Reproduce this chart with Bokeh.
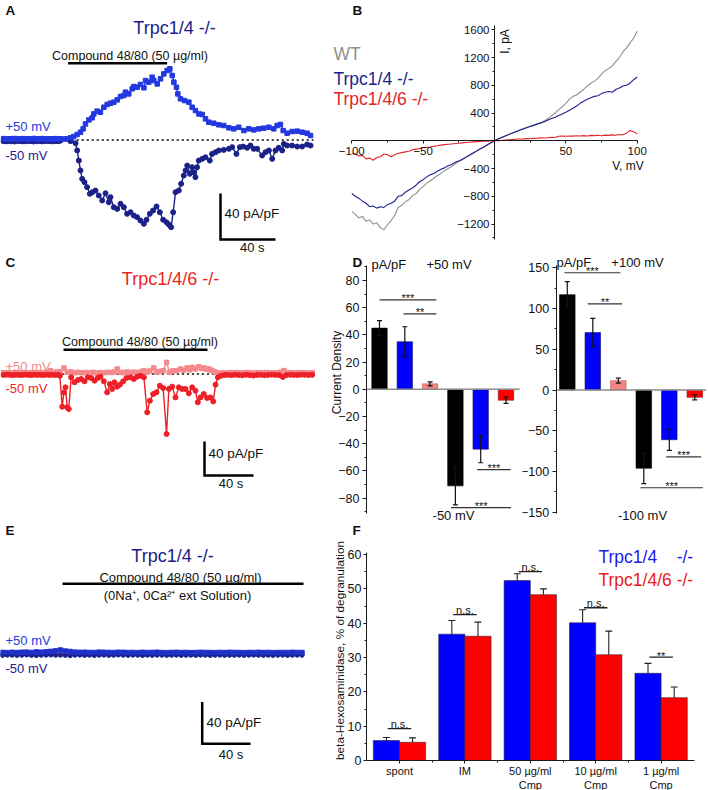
import math
from bokeh.plotting import figure
from bokeh.layouts import row, column
from bokeh.models import Label, Whisker, TeeHead, FixedTicker, ColumnDataSource, Range1d
from bokeh.embed import file_html
from bokeh.resources import INLINE

# ======================= DATA =======================
# ---- Panel A: Trpc1/4 -/- time course (t in s, current in pA/pF)
a_pos_t = [0, 2, 4, 6, 8, 10, 12, 14, 16, 18, 20, 22, 24, 26, 28, 30, 32, 34, 36, 38, 40,
           41.5, 45.1, 48.7, 51.1, 53.6, 56.0, 57.9, 59.6, 62.1, 64.5,
           65.7, 68.1, 70.5, 73.0, 75.4, 77.8, 80.2, 82.7, 85.1, 87.5,
           88.7, 91.1, 93.6, 94.8, 97.2, 99.6, 102.1, 103.3, 105.7, 108.1,
           109.3, 111.8, 114.2, 116.6, 119.0, 121.0, 122.7, 123.9, 125.8, 126.8,
           128.7, 131.6, 134.8, 137.2, 139.6, 142.1, 144.5, 146.9, 149.3, 152.9,
           156.6, 160.2, 163.9, 167.5, 171.1, 174.8, 178.4, 182.1, 185.7, 189.3,
           193.0, 196.6, 199.0, 201.4, 203.4, 206.3, 209.9, 213.6, 217.2, 220.8,
           223.3]
a_pos_i = [1.2, 0.8, 1.1, 0.9, 1.3, 1.0, 0.8, 1.2, 1.0, 0.9, 1.1, 1.3, 0.9, 1.0, 1.2, 0.8, 1.1, 1.0, 0.9, 1.2, 1.0,
           1.0, 1.0, 1.9, 3.0, 4.8, 6.8, 9.7, 14.0, 17.5, 19.3,
           22.7, 25.1, 24.2, 28.5, 30.9, 32.0, 32.9, 34.9, 37.8, 38.7,
           41.6, 40.1, 44.5, 46.5, 45.9, 48.3, 45.4, 51.7, 50.3, 54.6,
           51.7, 48.8, 53.2, 57.5, 60.4, 61.9, 56.1, 50.3, 45.9, 40.1,
           35.8, 34.3, 32.9, 28.5, 25.6, 22.7, 22.2, 18.4, 15.5, 14.6,
           13.2, 12.6, 10.6, 9.7, 11.1, 8.2, 9.7, 8.8, 9.7, 10.3,
           11.1, 9.7, 12.6, 13.5, 8.2, 5.9, 7.4, 7.7, 6.8, 5.9,
           3.9]
a_neg_t = [0, 2, 4, 6, 8, 10, 12, 14, 16, 18, 20, 22, 24, 26, 28, 30, 32, 34, 36, 38, 40,
           41.5, 48.7, 52.4, 53.6, 54.8, 56.0, 57.2, 58.9, 60.8, 62.8,
           64.5, 66.9, 69.3, 71.8, 74.2, 76.6, 77.8, 80.2, 82.7, 85.1,
           87.5, 89.9, 92.4, 94.8, 97.2, 99.6, 102.1, 104.0, 106.4, 108.8,
           111.3, 113.7, 116.1, 118.5, 120.2, 121.9, 123.4, 125.1, 127.5, 129.2,
           131.1, 132.4, 133.6, 135.5, 137.2, 138.4, 139.6, 140.8, 142.0, 144.5,
           146.9, 150.0, 151.7, 154.2, 156.6, 160.2, 163.9, 166.3, 169.4, 171.9,
           174.3, 177.2, 179.6, 182.0, 184.5, 188.1, 190.5, 193.0, 195.4, 197.8,
           200.2, 202.7, 203.9, 206.3, 209.9, 213.6, 217.2, 220.8, 223.3]
a_neg_i = [-1.0, -1.2, -0.9, -1.1, -1.3, -0.8, -1.0, -1.2, -1.1, -0.9, -1.0, -1.3, -1.1, -0.9, -1.2, -1.0, -0.8, -1.1, -1.2, -1.0, -1.1,
           -0.5, -1.0, -2.8, -9.1, -17.9, -26.5, -33.8, -36.7, -41.0, -46.8,
           -45.4, -43.9, -48.3, -52.6, -46.3, -54.1, -49.7, -58.4, -59.9, -55.5,
           -58.4, -64.2, -62.8, -65.7, -67.1, -70.0, -72.9, -69.4, -64.2, -61.3,
           -57.8, -62.8, -69.4, -71.5, -73.5, -75.8, -62.8, -45.4, -43.9, -38.1,
           -30.9, -26.5, -22.2, -29.4, -23.6, -28.0, -32.3, -23.6, -17.9, -16.4,
           -15.0, -17.9, -12.1, -10.6, -9.1, -8.6, -7.7, -6.2, -12.1, -6.2,
           -5.7, -6.8, -4.8, -7.7, -7.7, -13.5, -10.6, -9.1, -16.4, -9.1,
           -6.8, -9.1, -3.4, -4.8, -4.8, -5.7, -5.7, -3.9, -4.8]
a_compound = [47, 119]
a_dotted = [50, 225]

# ---- Panel C: Trpc1/4/6 -/- time course
c_neg_t = [0, 2.5, 5, 7.5, 10, 12.5, 15, 17.5, 20, 22.5, 25, 27.5, 30, 32.5, 35, 37.5, 40, 42.5, 45,
           46.0, 47.9, 49.3, 50.6, 52.0, 53.3, 55.2, 58.0, 60.7, 63.4,
           66.1, 68.8, 71.6, 74.3, 77.0, 79.2, 81.9, 84.6, 86.8, 88.7,
           90.6, 92.8, 95.0, 97.7, 100.4, 103.7, 106.4, 109.1, 111.8, 114.6,
           117.3, 119.5, 122.2, 124.9, 127.6, 130.3, 133.1, 135.0, 137.7, 140.4,
           143.1, 145.8, 148.6, 151.3, 154.0, 156.7, 158.6, 160.8, 163.5, 166.2,
           168.9, 171.2, 173.1, 175.0, 177.7,
           180.5, 183, 186, 189, 192, 195, 198, 201, 204, 207,
           210, 213, 216, 219, 222, 225, 228, 231, 234, 237,
           240, 243, 246, 249, 252]
c_neg_i = [-1.2, -0.8, -1.0, -1.4, -0.9, -1.1, -1.3, -0.8, -1.0, -1.2, -0.9, -1.1, -1.0, -1.3, -0.8, -1.2, -1.0, -1.1, -1.0,
           -2.0, -38.4, -21.6, -15.7, -39.2, -41.2, -3.9, -9.8, -7.1, -5.9,
           -8.6, -3.9, -4.7, -7.8, -4.7, -3.1, -8.6, -21.6, -11.8, -17.6,
           -9.8, -14.9, -12.5, -8.6, -4.7, -3.9, -5.9, -3.1, -2.0, -3.9,
           -45.1, -31.4, -23.5, -21.6, -13.7, -16.5, -70.6, -17.6, -14.9, -27.5,
           -15.7, -17.6, -17.6, -22.7, -15.7, -19.6, -33.3, -27.5, -23.5, -28.2,
           -27.5, -32.2, -12.5, -3.9, -2.0,
           -1.2, -1.0, -1.4, -0.9, -1.2, -1.5, -1.0, -1.3, -1.8, -1.1,
           -1.0, -1.4, -1.2, -0.9, -1.1, -1.3, -3.5, -1.2, -1.0, -1.1,
           -1.3, -0.9, -1.0, -1.2, -1.0]
c_pos_t = [0, 2.5, 5, 7.5, 10, 12.5, 15, 17.5, 20, 22.5,
           25, 27.5, 30, 32.5, 35, 38.4, 41, 43.5, 46.5, 49.3,
           52.0, 55, 58, 61, 64, 67, 70, 73, 76, 79,
           82, 85, 88, 90.5, 92.8, 95.5, 98, 101, 104, 107,
           110, 112.5, 114.6, 117, 119.5, 122.7, 125, 127.5, 130.5, 133.1,
           135.5, 138, 141, 144.5, 147, 149.9, 152, 154.0, 156.5, 159.4,
           161.5, 163.5, 165.5, 167.6, 169.5, 171.7, 173.5, 175.8, 178.5, 181.5,
           184.5, 187.5, 190.5, 193.5, 196.5, 199.5, 202.5, 205.5, 208.5, 211.5,
           214.5, 217.5, 220.5, 223.5, 226.5, 229, 231.5, 234.5, 237.5, 240.5,
           243.5, 246.5, 249.5, 252]
c_pos_i = [1.5, 1.2, 1.6, 1.3, 1.5, 1.8, 1.4, 1.6, 1.3, 1.5,
           1.7, 1.4, 1.6, 1.3, 2.2, 3.9, 1.8, 2.5, 2.7, 7.1,
           2.0, 2.6, 1.5, 2.0, 1.4, 1.8, 1.5, 2.0, 1.2, 1.6,
           1.5, 2.0, 1.8, 2.5, 5.9, 2.0, 1.6, 2.4, 1.8, 2.2,
           1.6, 2.8, 3.9, 2.0, 3.5, 7.1, 2.5, 3.0, 4.0, 13.7,
           2.0, 3.5, 3.9, 5.9, 4.5, 7.1, 5.0, 7.8, 6.0, 8.6,
           6.5, 7.1, 5.5, 5.9, 4.5, 3.1, 2.0, 0.8, 1.5, 1.2,
           1.6, 1.4, 1.8, 1.3, 1.5, 1.7, 1.2, 1.6, 1.4, 1.5,
           1.8, 1.3, 1.5, 1.4, 2.2, 4.0, 1.8, 1.5, 1.3, 1.6,
           1.4, 1.5, 1.3, 1.5]
c_compound = [49, 166.5]
c_dotted = [40, 185]

# ---- Panel E: Trpc1/4 -/- in 0Na+, 0Ca2+ solution
e_t = [0, 4, 8, 12, 16, 20, 24, 28, 32, 36,
       40, 44, 48, 52, 56, 60, 64, 68, 72, 76,
       80, 84, 88, 92, 96, 100, 104, 108, 112, 116,
       120, 124, 128, 132, 136, 140, 144, 148, 152, 156,
       160, 164, 168, 172, 176, 180, 184, 188, 192, 196,
       200, 204, 208, 212, 216, 220, 224, 228, 232, 236,
       240, 244, 248]
e_pos_i = [1.3, 1.1, 1.4, 1.2, 1.5, 1.6, 1.3, 1.8, 1.5, 1.9,
           2.3, 2.8, 3.6, 2.6, 2.2, 1.6, 1.4, 1.5, 1.3, 1.2,
           1.6, 1.4, 1.3, 1.2, 1.5, 1.4, 1.2, 1.3, 1.1, 1.4,
           1.2, 1.3, 1.5, 1.2, 1.1, 1.3, 1.4, 1.2, 1.3, 1.1,
           1.2, 1.4, 1.3, 1.2, 1.1, 1.3, 1.2, 1.4, 1.3, 1.2,
           1.1, 1.3, 1.2, 1.4, 1.2, 1.3, 1.1, 1.2, 1.3, 1.2,
           1.4, 1.3, 1.2]
e_neg_i = [-1.3, -1.1, -1.2, -1.4, -1.2, -1.0, -1.3, -1.5, -1.2, -1.1,
           -1.0, -1.2, -1.1, -1.3, -1.6, -1.2, -1.1, -1.3, -1.2, -1.4,
           -1.2, -1.1, -1.3, -1.2, -1.0, -1.2, -1.3, -1.1, -1.2, -1.4,
           -1.2, -1.3, -1.1, -1.2, -1.3, -1.2, -1.1, -1.3, -1.2, -1.2,
           -1.3, -1.1, -1.2, -1.4, -1.2, -1.1, -1.3, -1.2, -1.2, -1.1,
           -1.3, -1.2, -1.1, -1.2, -1.3, -1.2, -1.4, -1.2, -1.1, -1.3,
           -1.2, -1.1, -1.2]
e_compound = [49.7, 249.3]

scale_time = 40      # s
scale_current = 40   # pA/pF

# ---- Panel B: I-V curves (mV, pA)
b_v = [-100, -97.5, -95, -92.5, -90, -87.5, -85, -82.5, -80, -77.5,
       -75, -72.5, -70, -67.5, -65, -62.5, -60, -57.5, -55, -52.5,
       -50, -47.5, -45, -42.5, -40, -37.5, -35, -32.5, -30, -27.5,
       -25, -22.5, -20, -17.5, -15, -12.5, -10, -7.5, -5, -2.5,
       0, 2.5, 5, 7.5, 10, 12.5, 15, 17.5, 20, 22.5,
       25, 27.5, 30, 32.5, 35, 37.5, 40, 42.5, 45, 47.5,
       50, 52.5, 55, 57.5, 60, 62.5, 65, 67.5, 70, 72.5,
       75, 77.5, 80, 82.5, 85, 87.5, 90, 92.5, 95, 97.5,
       100]
b_wt = [-1020, -1060, -1110, -1090, -1160, -1140, -1200, -1180, -1250, -1280,
        -1210, -1150, -1080, -960, -930, -880, -850, -790, -760, -700,
        -660, -610, -580, -540, -500, -470, -430, -400, -370, -330,
        -300, -270, -240, -210, -180, -150, -120, -90, -60, -30,
        0, 25, 48, 70, 92, 112, 132, 152, 172, 192,
        210, 228, 245, 262, 290, 320, 360, 400, 450, 490,
        540, 600, 640, 660, 700, 740, 790, 830, 860, 900,
        960, 1010, 1040, 1080, 1140, 1200, 1280, 1340, 1410, 1480,
        1580]
b_trpc14 = [-760, -800, -830, -870, -900, -950, -940, -970, -950, -960,
            -920, -900, -870, -800, -790, -740, -710, -680, -640, -590,
            -560, -520, -490, -470, -440, -410, -390, -360, -340, -310,
            -290, -265, -235, -205, -175, -145, -115, -88, -58, -28,
            0, 25, 48, 70, 92, 112, 132, 152, 170, 188,
            205, 222, 240, 258, 275, 300, 320, 340, 365, 385,
            410, 440, 470, 500, 540, 570, 600, 620, 640, 650,
            680, 700, 710, 700, 740, 760, 790, 800, 830, 880,
            920]
b_trpc146 = [-180, -190, -220, -210, -260, -250, -280, -240, -230, -190,
             -200, -230, -200, -180, -170, -160, -150, -130, -120, -110,
             -100, -95, -90, -80, -72, -62, -55, -50, -45, -40,
             -35, -30, -25, -20, -16, -12, -9, -6, -4, -2,
             0, 3, 6, 10, 14, 18, 22, 25, 28, 32,
             30, 35, 38, 42, 40, 45, 50, 48, 65, 70,
             65, 70, 68, 72, 70, 75, 70, 78, 74, 80,
             72, 82, 78, 85, 80, 90, 88, 110, 150, 130,
             100]
b_xticks = [-100, -50, 50, 100]
b_xminor = [-75, -25, 25, 75]
b_yticks = [-1200, -800, -400, 400, 800, 1200, 1600]
b_yminor = [-1400, -1000, -600, -200, 200, 600, 1000, 1400]
b_xbounds = (-100, 100)
b_ybounds = (-1420, 1660)

# ---- Panel D: current density bars
d_x = [0, 1, 2, 3, 4, 5]
d_colors = ["#000000", "#0000fe", "#f28482", "#000000", "#0000fe", "#fe0000"]
d_edges = ["#000000", "#1a1a60", "#c0605e", "#000000", "#1a1a60", "#901010"]
d50_val = [45, 35, 4, -71, -44, -8]
d50_err = [5.5, 11, 1.5, 14, 10, 2.3]
d50_sig_x0 = [0, 0.95, 3.86, 2.83]
d50_sig_x1 = [2.25, 2.25, 5.18, 5.2]
d50_sig_y = [65.7, 55.4, -59, -87]
d50_sig_txt = ["***", "**", "***", "***"]
d50_ticks = [-80, -60, -40, -20, 0, 20, 40, 60, 80]
d50_minor = [-90, -70, -50, -30, -10, 10, 30, 50, 70, 90]
d100_val = [117, 70.5, 11.5, -96, -61, -9]
d100_err = [16, 17.5, 3, 19, 13, 3]
d100_sig_x0 = [-0.11, 0.80, 3.88, 2.87]
d100_sig_x1 = [2.08, 2.15, 5.25, 5.32]
d100_sig_y = [143.9, 105.7, -82, -120]
d100_sig_txt = ["***", "**", "***", "***"]
d100_ticks = [-150, -100, -50, 0, 50, 100, 150]
d100_minor = [-125, -75, -25, 25, 75, 125]

# ---- Panel F: degranulation
f_groups = ["spont", "IM", "50 µg/ml\nCmp", "10 µg/ml\nCmp", "1 µg/ml\nCmp"]
f_x = [0, 1, 2, 3, 4]
f_trpc14 = [5.8, 36.8, 52.4, 40.1, 25.4]
f_trpc14_err = [0.9, 4.0, 2.0, 3.8, 2.9]
f_trpc146 = [5.3, 36.2, 48.3, 30.8, 18.3]
f_trpc146_err = [1.3, 4.1, 1.7, 6.9, 3.1]
f_sig_y = [9.3, 42.5, 55.0, 44.5, 30.1]
f_sig_txt = ["n.s.", "n.s.", "n.s.", "n.s.", "**"]
f_yticks = [0, 10, 20, 30, 40, 50, 60]
f_yminor = [5, 15, 25, 35, 45, 55]

# ======================= STYLE / LAYOUT =======================
FONT = "Liberation Sans"
NAVY = "#1b2188"
BLUE = "#2338e0"
PINK = "#f4898c"
RED = "#ee1f26"
GRAY = "#8f8f8f"
INK = "#111111"


def fs(v):
    return f"{v:.1f}px"


class Panel:
    """A figure whose frame fills its whole box; xmap/ymap convert page pixels to data."""

    def __init__(self, box, xmap, ymap, axes=False):
        bx0, by0, bx1, by1 = box
        self.xmap, self.ymap = xmap, ymap
        p = figure(width=bx1 - bx0, height=by1 - by0,
                   x_range=Range1d(xmap(bx0), xmap(bx1)), y_range=Range1d(ymap(by1), ymap(by0)),
                   title=None, output_backend="svg", toolbar_location=None,
                   x_axis_location="below" if axes else None,
                   y_axis_location="left" if axes else None,
                   min_border_left=0, min_border_right=0, min_border_top=0, min_border_bottom=0)
        p.outline_line_color = None
        p.grid.visible = False
        p.background_fill_color = "white"
        p.border_fill_color = "white"
        self.p = p

    def dy(self, px):
        return self.ymap(0) - self.ymap(px)

    def text(self, rx, ry, s, size, color=INK, align="left", bold=False, angle=0.0):
        self.p.add_layout(Label(x=self.xmap(rx), y=self.ymap(ry), text=s, text_font=FONT,
                                text_font_size=fs(size), text_color=color, text_align=align,
                                text_baseline="middle", angle=angle,
                                text_font_style="bold" if bold else "normal"))

    def dtext(self, x, y, s, size):
        self.p.add_layout(Label(x=x, y=y, text=s, text_font=FONT, text_font_size=fs(size),
                                text_color=INK, text_align="center", text_baseline="middle"))


def style_axis(ax, size, tick_out=4, standoff=2):
    ax.axis_line_color = "#1a1a1a"
    ax.axis_line_width = 1
    ax.major_tick_line_color = "#1a1a1a"
    ax.minor_tick_line_color = "#1a1a1a"
    ax.major_tick_in = 0
    ax.major_tick_out = tick_out
    ax.minor_tick_in = 0
    ax.minor_tick_out = 2
    ax.major_label_text_font = FONT
    ax.major_label_text_font_size = fs(size)
    ax.major_label_text_color = INK
    ax.major_label_standoff = standoff


def trace(p, t, i, color, marker, size):
    p.line(t, i, line_color=color, line_width=1.4)
    p.scatter(t, i, marker=marker, size=size, fill_color=color, line_color=color)


def scalebar(panel, rx, ry):
    t0 = panel.xmap(rx)
    i0 = panel.ymap(ry)
    panel.p.line([t0, t0, t0 + scale_time], [i0 + scale_current, i0, i0],
                 line_color="black", line_width=2.5, line_join="miter")


def compound_bar(panel, tt, ry):
    y = panel.ymap(ry)
    panel.p.line(tt, [y, y], line_color="black", line_width=2.5)


ROW1, ROW2, ROW3 = 256, 522, 790
LEFT_W = 326
TOTAL_W = 708

# ---------------- Panel A ----------------
pA = Panel((0, 0, LEFT_W, ROW1), lambda rx: (rx - 3) / 1.375, lambda ry: (139.5 - ry) / 1.15)
pA.p.line(a_dotted, [0, 0], line_color="black", line_width=1.5, line_dash="1 4", line_cap="round")
trace(pA.p, a_neg_t, a_neg_i, NAVY, "circle", 5)
trace(pA.p, a_pos_t, a_pos_i, BLUE, "square", 4.5)
compound_bar(pA, a_compound, 62.7)
scalebar(pA, 220, 239)
pA.text(5, 10, "A", 13.5, bold=True)
pA.text(174, 27, "Trpc1/4 -/-", 18, NAVY, "center")
pA.text(129.5, 55, "Compound 48/80 (50 µg/ml)", 12.5, INK, "center")
pA.text(5, 126, "+50 mV", 13, BLUE)
pA.text(5, 155, "-50 mV", 13, NAVY)
pA.text(224, 213, "40 pA/pF", 13.5)
pA.text(251.7, 247, "40 s", 13, INK, "center")

# ---------------- Panel B ----------------
pB = Panel((LEFT_W, 0, TOTAL_W, ROW1), lambda rx: (rx - 494) / 1.427, lambda ry: (140.3 - ry) / 0.0694, axes=True)
pb = pB.p
pb.xaxis.fixed_location = 0
pb.yaxis.fixed_location = 0
pb.xaxis.bounds = b_xbounds
pb.yaxis.bounds = b_ybounds
pb.xaxis.ticker = FixedTicker(ticks=b_xticks, minor_ticks=b_xminor)
pb.yaxis.ticker = FixedTicker(ticks=b_yticks, minor_ticks=b_yminor)
style_axis(pb.xaxis[0], 11.5, 3, 3)
style_axis(pb.yaxis[0], 11.5, 3, 2)
pb.line(b_v, b_wt, line_color=GRAY, line_width=1.1)
pb.line(b_v, b_trpc14, line_color="#1c1f8f", line_width=1.1)
pb.line(b_v, b_trpc146, line_color="#e2252b", line_width=1.1)
pB.text(352, 10, "B", 13.5, bold=True)
pB.text(333, 53, "WT", 17.5, GRAY)
pB.text(333, 78, "Trpc1/4 -/-", 17.5, "#1c1f8f")
pB.text(333, 98.5, "Trpc1/4/6 -/-", 17.5, "#e2252b")
pB.text(504, 41, "I, pA", 12, INK, "center", angle=math.pi / 2)
pB.text(627.5, 165, "V, mV", 12, INK, "center")

# ---------------- Panel C ----------------
pC = Panel((0, ROW1, LEFT_W, ROW2), lambda rx: (rx - 3) / 1.225, lambda ry: (373.5 - ry) / 0.85)
pC.p.line(c_dotted, [0, 0], line_color="black", line_width=1.5, line_dash="1 4", line_cap="round")
trace(pC.p, c_pos_t, c_pos_i, PINK, "square", 4.5)
trace(pC.p, c_neg_t, c_neg_i, RED, "circle", 5)
compound_bar(pC, c_compound, 349.3)
scalebar(pC, 204, 475)
pC.text(5, 262, "C", 13.5, bold=True)
pC.text(170, 278, "Trpc1/4/6 -/-", 18, RED, "center")
pC.text(139.5, 341.7, "Compound 48/80 (50 µg/ml)", 12.5, INK, "center")
pC.text(5, 365.5, "+50 mV", 13, PINK)
pC.text(5, 388.3, "-50 mV", 13, RED)
pC.text(208, 452.7, "40 pA/pF", 13.5)
pC.text(230.5, 483, "40 s", 13, INK, "center")


# ---------------- Panel D ----------------
def bar_panel_d(panel, ax_rx, end_rx, top_ry, bot_ry, vals, errs, sx0, sx1, sy, stxt, ticks, minor):
    p = panel.p
    ax = p.yaxis[0]
    ax.fixed_location = panel.xmap(ax_rx)
    ax.bounds = (panel.ymap(bot_ry), panel.ymap(top_ry))
    ax.ticker = FixedTicker(ticks=ticks, minor_ticks=minor)
    style_axis(ax, 12.5, 4, 3)
    p.xaxis.visible = False
    p.vbar(x=d_x, top=vals, bottom=0, width=0.61, fill_color=d_colors,
           line_color=d_edges, line_width=0.6)
    p.line([panel.xmap(ax_rx), panel.xmap(end_rx)], [0, 0], line_color="#8c8c8c", line_width=1.5)
    src = ColumnDataSource(dict(base=d_x,
                                lower=[v - e for v, e in zip(vals, errs)],
                                upper=[v + e for v, e in zip(vals, errs)]))
    p.add_layout(Whisker(base="base", lower="lower", upper="upper", source=src,
                         level="overlay", line_color=INK, line_width=1.2,
                         upper_head=TeeHead(size=5, line_color=INK, line_width=1.2),
                         lower_head=TeeHead(size=5, line_color=INK, line_width=1.2)))
    p.segment(x0=sx0, x1=sx1, y0=sy, y1=sy, line_color="#333333", line_width=1.2)
    for a, b, y, t in zip(sx0, sx1, sy, stxt):
        panel.dtext((a + b) / 2, y + panel.dy(1.5), t, 11)


pDl = Panel((LEFT_W, ROW1, 522, ROW2), lambda rx: (rx - 379) / 25.3, lambda ry: (388.8 - ry) / 1.36, axes=True)
bar_panel_d(pDl, 366, 519, 265, 513, d50_val, d50_err, d50_sig_x0, d50_sig_x1, d50_sig_y,
            d50_sig_txt, d50_ticks, d50_minor)
pDl.text(352, 262, "D", 13.5, bold=True)
pDl.text(371, 263.5, "pA/pF", 13)
pDl.text(448.5, 263.5, "+50 mV", 13, INK, "center")
pDl.text(453, 515, "-50 mV", 13, INK, "center")
pDl.text(336, 372, "Current Density", 12, INK, "center", angle=math.pi / 2)

pDr = Panel((522, ROW1, TOTAL_W, ROW2), lambda rx: (rx - 566.8) / 25.5, lambda ry: (389.5 - ry) / 0.8147, axes=True)
bar_panel_d(pDr, 555.7, 705.7, 265, 513, d100_val, d100_err, d100_sig_x0, d100_sig_x1, d100_sig_y,
            d100_sig_txt, d100_ticks, d100_minor)
pDr.text(556, 262, "pA/pF", 13)
pDr.text(637, 262, "+100 mV", 13, INK, "center")
pDr.text(642, 515, "-100 mV", 13, INK, "center")

# ---------------- Panel E ----------------
pE = Panel((0, ROW2, LEFT_W, ROW3), lambda rx: (rx - 2) / 1.2075, lambda ry: (653.3 - ry) / 1.0425)
trace(pE.p, e_t, e_neg_i, NAVY, "circle", 4.5)
trace(pE.p, e_t, e_pos_i, "#1f30c8", "square", 4.5)
compound_bar(pE, e_compound, 583.3)
scalebar(pE, 201.7, 743.3)
pE.text(5, 530, "E", 13.5, bold=True)
pE.text(172, 555, "Trpc1/4 -/-", 18, NAVY, "center")
pE.text(180, 576.7, "Compound 48/80 (50 µg/ml)", 13, INK, "center")
pE.text(177, 595, "(0Na⁺, 0Ca²⁺ ext Solution)", 13, INK, "center")
pE.text(5, 640, "+50 mV", 13, BLUE)
pE.text(5, 668, "-50 mV", 13, NAVY)
pE.text(206, 721.7, "40 pA/pF", 13.5)
pE.text(230.5, 754, "40 s", 13, INK, "center")

# ---------------- Panel F ----------------
pF = Panel((LEFT_W, ROW2, TOTAL_W, ROW3), lambda rx: (rx - 399) / 65.4, lambda ry: (760 - ry) / 3.433, axes=True)
pf = pF.p
pf.yaxis.fixed_location = pF.xmap(366)
pf.yaxis.bounds = (0, pF.ymap(552))
pf.xaxis.fixed_location = 0
pf.xaxis.bounds = (pF.xmap(366), pF.xmap(694))
pf.yaxis.ticker = FixedTicker(ticks=f_yticks, minor_ticks=f_yminor)
pf.xaxis.ticker = FixedTicker(ticks=f_x, minor_ticks=[0.5, 1.5, 2.5, 3.5])
pf.xaxis.major_label_overrides = {x: g for x, g in zip(f_x, f_groups)}
style_axis(pf.yaxis[0], 12.5, 3, 2)
style_axis(pf.xaxis[0], 11, 3, 1)
dodge = 0.2
xb = [x - dodge for x in f_x]
xr_ = [x + dodge for x in f_x]
pf.vbar(x=xb, top=f_trpc14, width=0.4, fill_color="#0000ff", line_color="#202040", line_width=0.6)
pf.vbar(x=xr_, top=f_trpc146, width=0.4, fill_color="#ff0000", line_color="#402020", line_width=0.6)
for xs, vals, errs in ((xb, f_trpc14, f_trpc14_err), (xr_, f_trpc146, f_trpc146_err)):
    src = ColumnDataSource(dict(base=xs, lower=vals, upper=[v + e for v, e in zip(vals, errs)]))
    pf.add_layout(Whisker(base="base", lower="lower", upper="upper", source=src, level="overlay",
                          line_color="#222222", line_width=1.1, lower_head=None,
                          upper_head=TeeHead(size=7, line_color="#222222", line_width=1.1)))
pf.segment(x0=[x - 0.18 for x in f_x], x1=[x + 0.18 for x in f_x], y0=f_sig_y, y1=f_sig_y,
           line_color="#222222", line_width=1.3)
for x, y, t in zip(f_x, f_sig_y, f_sig_txt):
    if t == "**":
        pF.dtext(x, y + pF.dy(1.5), t, 11)
    else:
        pF.dtext(x, y + pF.dy(5), t, 11)
pF.text(352, 530, "F", 13.5, bold=True)
pF.text(598, 556.7, "Trpc1/4\u00a0\u00a0\u00a0\u00a0-/-", 17.5, "#1b1be8")
pF.text(598, 579, "Trpc1/4/6 -/-", 17.5, "#e81b1b")
pF.text(339, 650, "beta-Hexosaminidase, % of degranulation", 11.8, INK, "center", angle=math.pi / 2)

layout = column(row(pA.p, pB.p), row(pC.p, pDl.p, pDr.p), row(pE.p, pF.p))
open("out.html", "w").write(file_html(layout, INLINE))
